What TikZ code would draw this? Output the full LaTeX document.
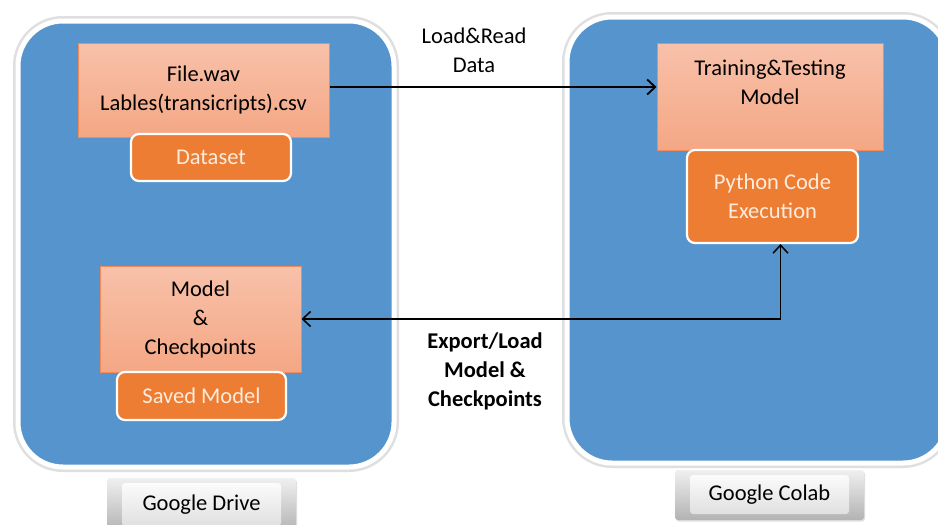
\documentclass[tikz,border=0pt]{standalone}
\usepackage{fontspec}
\setmainfont{Carlito}
\usepackage{xcolor}
\usepackage{tikz}
\usetikzlibrary{arrows.meta,shadows}
\definecolor{panelblue}{RGB}{86,148,205}
\definecolor{salmontop}{RGB}{248,193,170}
\definecolor{salmonbot}{RGB}{244,167,132}
\definecolor{salmonedge}{RGB}{240,138,88}
\definecolor{tagorange}{RGB}{236,125,50}
\definecolor{tagtext}{RGB}{253,236,222}
\newcommand{\bigtxt}{\fontsize{22.5}{29}\selectfont}
\tikzset{
  barb/.tip={Straight Barb[length=8pt,width=15pt]},
  panel/.style={rounded corners=45, fill=panelblue, draw=white, line width=5,
    preaction={draw=gray!25, line width=10},
    drop shadow={shadow xshift=1pt, shadow yshift=-1.5pt, opacity=0.2}},
  databox/.style={shade, top color=salmontop, bottom color=salmonbot, draw=salmonedge,
    line width=1, align=center, font=\bigtxt, inner sep=0},
  tagbox/.style={fill=tagorange, draw=white, line width=2.2, rounded corners=8,
    text=tagtext, align=center, font=\bigtxt, inner sep=0},
  cloudbtn/.style={shade, top color=gray!12, bottom color=gray!60, rounded corners=3,
    minimum width=189, font=\bigtxt, inner sep=0,
    drop shadow={shadow xshift=1pt, shadow yshift=-1.5pt, opacity=0.25},
    path picture={\shade[top color=white, bottom color=gray!28]
      ([xshift=15pt,yshift=-5pt]path picture bounding box.north west) rectangle
      ([xshift=-15pt,yshift=6pt]path picture bounding box.south east);}},
  oneway/.style={line width=1.8, -{barb}},
  twoway/.style={line width=1.5, {barb}-{barb}}
}
\begin{document}
\begin{tikzpicture}[x=1pt,y=-1pt]
\useasboundingbox[fill=white] (0,0) rectangle (938,525);
% the two cloud panels
\draw[panel] (18,21) rectangle (394,467);
\draw[panel] (567,17) rectangle (948,463);
% Google Drive side
\node[databox, minimum width=251, minimum height=94] (files) at (203.5,90) {File.wav\\Lables(transicripts).csv};
\node[tagbox, minimum width=160, minimum height=47] (dataset) at (211,157.5) {Dataset};
\node[databox, minimum width=201, minimum height=106] (ckpt) at (200.5,319) {Model\\\&\\Checkpoints};
\node[tagbox, minimum width=169, minimum height=48] (saved) at (201.5,396) {Saved Model};
\node[cloudbtn, minimum height=54] (drive) at (201.5,505) {Google Drive};
% Google Colab side
\node[databox, minimum width=226, minimum height=107] (train) at (770,96.5) {Training\&Testing\\Model\\\mbox{}};
\node[tagbox, minimum width=171, minimum height=93] (python) at (772.5,196.5) {Python Code\\Execution};
\node[cloudbtn, minimum height=50] (colab) at (769.5,495) {Google Colab};
% connectors
\draw[oneway] ([yshift=3]files.east) -- ([yshift=3]files.east -| train.west);
\node[font=\bigtxt, align=center] (loadlbl) at (474,50) {Load\&Read\\Data};
\draw[twoway] (ckpt.east) -| ([xshift=8]python.south);
\node[font=\bigtxt\bfseries, align=center] (exportlbl) at (485,371.5) {Export/Load\\Model \&\\Checkpoints};
\end{tikzpicture}
\end{document}
